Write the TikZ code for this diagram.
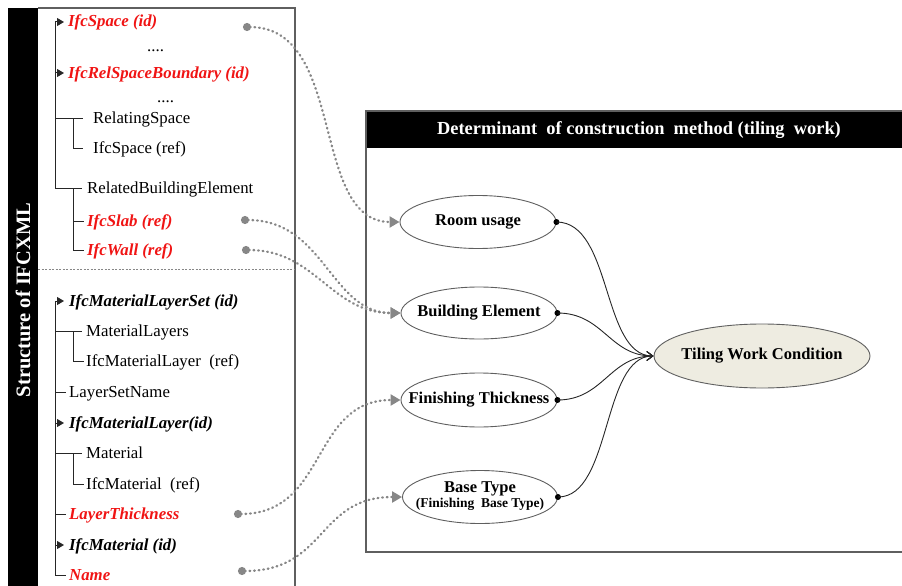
\documentclass[tikz,border=0pt]{standalone}
\usepackage{fontspec}
\setmainfont{Liberation Serif}
\usetikzlibrary{shapes.geometric,arrows.meta}
\definecolor{ifcred}{RGB}{240,20,20}
\definecolor{dotgray}{RGB}{135,135,135}
\definecolor{boxgray}{RGB}{95,95,95}
\definecolor{tilefill}{RGB}{238,236,225}
\begin{document}
\begin{tikzpicture}[x=1pt,y=-1pt,
  item/.style={anchor=west, inner sep=0pt, font=\fontsize{16.8}{18}\selectfont, text height=12pt, text depth=2pt},
  reditem/.style={item, text=ifcred, font=\fontsize{16.8}{18}\selectfont\bfseries\itshape},
  bitem/.style={item, font=\fontsize{16.8}{18}\selectfont\bfseries\itshape},
  tree/.style={draw=black!85, line width=1pt},
  treearrow/.style={tree, -{Triangle[length=7pt,width=8pt]}},
  boxline/.style={draw=boxgray, line width=1.2pt},
  ellip/.style={ellipse, draw=boxgray, line width=0.9pt, inner sep=0pt, minimum width=156pt, minimum height=53pt, font=\fontsize{16.5}{18}\selectfont\bfseries},
  dotconn/.style={draw=dotgray, line width=2.3pt, line cap=round, dash pattern=on 0.8pt off 3.8pt, {Circle[length=8pt]}-{Triangle[length=10pt,width=11pt]}},
  blk/.style={draw=black!85, line width=0.9pt, -{Straight Barb[length=6pt,width=9pt]}},
  headtext/.style={text=white, font=\fontsize{18.4}{20}\selectfont\bfseries, inner sep=0pt}
]
\useasboundingbox (0,0) rectangle (902,586);
\clip (0,0) rectangle (902,586);

% ---------- left panel ----------
\fill[black] (8,8) rectangle (38,600);
\draw[boxline] (38,8) -- (295,8) -- (295,600);
\node[text=white, rotate=90, inner sep=0pt, font=\fontsize{20.5}{24}\selectfont\bfseries] (title) at (23,300) {Structure of IFCXML};
\draw[draw=dotgray, line width=0.6pt, dash pattern=on 2pt off 1.5pt] (38,269) -- (295,269);

% upper tree
\draw[tree] (55,22) -- (55,188) -- (82,188);
\draw[treearrow] (55,22) -- (64,22);
\draw[treearrow] (55,73) -- (64,73);
\draw[tree] (55,118) -- (83,118);
\draw[tree] (73,118) -- (73,148) -- (83,148);
\draw[tree] (73,188) -- (73,250) -- (84,250);
\draw[tree] (73,221) -- (84,221);

\node[reditem] (n1) at (68,22) {IfcSpace (id)};
\node[item] (d1) at (147,47) {....};
\node[reditem] (n2) at (68,73) {IfcRelSpaceBoundary (id)};
\node[item] (d2) at (157,97) {....};
\node[item] (n3) at (93,118) {RelatingSpace};
\node[item] (n4) at (93,148) {IfcSpace (ref)};
\node[item] (n5) at (87,188) {RelatedBuildingElement};
\node[reditem] (n6) at (87,221) {IfcSlab (ref)};
\node[reditem] (n7) at (87,250) {IfcWall (ref)};

% lower tree
\draw[tree] (55,301) -- (55,575) -- (66,575);
\draw[treearrow] (55,301) -- (64,301);
\draw[tree] (55,331) -- (82,331);
\draw[tree] (73,331) -- (73,361) -- (84,361);
\draw[tree] (55,392) -- (66,392);
\draw[treearrow] (55,423) -- (64,423);
\draw[tree] (55,453) -- (82,453);
\draw[tree] (73,453) -- (73,484) -- (84,484);
\draw[tree] (55,514) -- (66,514);
\draw[treearrow] (55,545) -- (64,545);

\node[bitem] (m1) at (69,301) {IfcMaterialLayerSet (id)};
\node[item] (m2) at (86,331) {MaterialLayers};
\node[item] (m3) at (86,361) {IfcMaterialLayer\ \ (ref)};
\node[item] (m4) at (69,392) {LayerSetName};
\node[bitem] (m5) at (69,423) {IfcMaterialLayer(id)};
\node[item] (m6) at (86,453) {Material};
\node[item] (m7) at (86,484) {IfcMaterial\ \ (ref)};
\node[reditem] (m8) at (69,514) {LayerThickness};
\node[bitem] (m9) at (69,545) {IfcMaterial (id)};
\node[reditem] (m10) at (69,575) {Name};

% ---------- right panel ----------
\fill[black] (366,111) rectangle (910,148);
\draw[boxline] (910,111) -- (366,111) -- (366,552) -- (910,552);
\node[headtext] (head) at (639,130) {Determinant\ \ of construction\ \ method (tiling\ \ work)};

\node[ellip] (room) at (478,222) {\makebox[0pt]{Room usage}};
\node[ellip, minimum height=52pt] (build) at (479,313) {\makebox[0pt]{Building Element}};
\node[ellip, minimum height=54pt] (finish) at (479,400) {\makebox[0pt]{Finishing Thickness}};
\node[ellip, minimum width=155pt, minimum height=53pt] (base) at (480,497) {\makebox[0pt]{\renewcommand{\arraystretch}{0.85}\begin{tabular}{@{}c@{}}Base Type\\{\fontsize{13.5}{14}\selectfont (Finishing\ \ Base Type)}\end{tabular}}};
\node[ellip, fill=tilefill, minimum width=216pt, minimum height=64pt] (tiling) at (762,356) {\makebox[0pt]{Tiling Work Condition}};

% black connectors
\foreach \n in {room,build,finish,base} {\fill[black] (\n.east) circle (3);}
\draw[blk] (room.east) .. controls +(56,0) and +(-52,0) .. (tiling.west);
\draw[blk] (build.east) .. controls +(46,0) and +(-44,0) .. (tiling.west);
\draw[blk] (finish.east) .. controls +(46,0) and +(-44,0) .. (tiling.west);
\draw[blk] (base.east) .. controls +(54,0) and +(-52,0) .. (tiling.west);

% dotted connectors
\coordinate (s1) at (243,27);
\coordinate (s2) at (241,220);
\coordinate (s3) at (242,250);
\coordinate (s4) at (234,514);
\coordinate (s5) at (238,571);
\draw[dotconn] (s1) .. controls +(104,0) and +(-90,0) .. (room.west);
\draw[dotconn] (s2) .. controls +(84,0) and +(-70,0) .. (build.west);
\draw[dotconn] (s3) .. controls +(74,0) and +(-70,0) .. (build.west);
\draw[dotconn] (s4) .. controls +(94,0) and +(-90,0) .. (finish.west);
\draw[dotconn] (s5) .. controls +(89,0) and +(-85,0) .. (base.west);
\end{tikzpicture}
\end{document}
